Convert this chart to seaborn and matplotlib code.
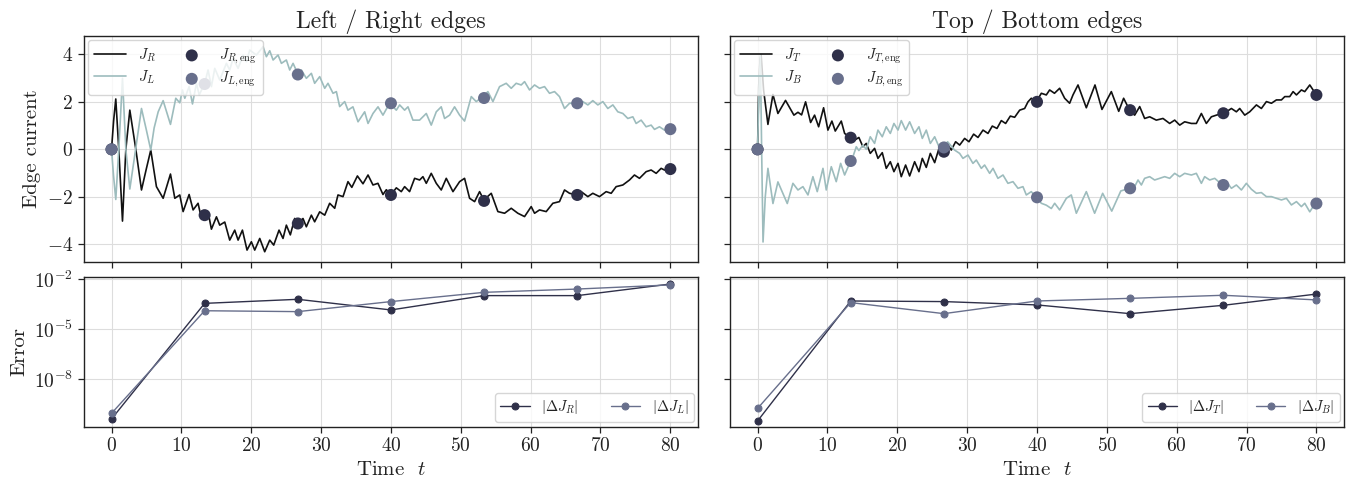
import numpy as np
import pandas as pd
import seaborn as sns
import matplotlib
matplotlib.use("Agg")
import matplotlib.pyplot as plt

# ---------------- data ----------------
t_R = [0, 0.3, 0.61, 1.04, 1.57, 2.05, 2.62, 3.48, 4.29, 5.0, 5.62, 6.43, 7.39, 8.44, 9.06, 9.77,
       10.25, 11.11, 11.68, 12.39, 12.87, 13.35, 13.82, 14.30, 15.02, 15.49, 16.21, 16.92, 17.64,
       18.12, 18.74, 19.40, 20.02, 20.5, 21.22, 21.93, 22.65, 23.22, 23.98, 24.55, 25.03, 25.6,
       26.22, 26.7, 27.41, 27.89, 28.61, 29.08, 29.8, 30.52, 31.23, 31.95, 32.42, 33.14, 33.85,
       34.4, 35.2, 36.0, 36.72, 37.43, 38.14, 38.86, 39.34, 40.0, 40.77, 41.48, 41.96, 42.67,
       43.39, 44.11, 44.58, 45.06, 45.77, 46.49, 47.2, 47.92, 48.88, 49.83, 50.54, 51.26, 51.98,
       52.69, 53.3, 54.36, 55.31, 56.27, 57.22, 58.17, 59.13, 60.08, 60.56, 61.27, 62.23, 63.18,
       64.13, 64.85, 65.57, 66.7, 67.23, 68.19, 68.9, 69.86, 70.81, 71.53, 72.24, 73.2, 74.15,
       74.86, 75.58, 76.53, 77.25, 77.97, 78.68, 79.16, 80.0]
J_R = [0, 1.2, 2.12, 0.0, -3.02, 0.0, 1.65, 0.0, -1.71, -0.8, -0.03, -1.57, -2.06, -1.04, -2.06,
       -1.92, -2.62, -1.90, -2.55, -2.27, -2.91, -2.77, -2.63, -3.36, -2.84, -3.19, -3.06, -3.82,
       -3.4, -3.82, -3.4, -4.24, -3.89, -4.24, -3.75, -4.31, -3.82, -4.03, -3.4, -3.75, -3.19,
       -3.6, -2.91, -3.12, -2.91, -3.26, -2.77, -3.05, -2.63, -2.77, -2.27, -2.48, -1.92, -1.99,
       -1.36, -1.6, -1.12, -1.45, -1.08, -1.5, -1.43, -1.9, -1.7, -1.92, -1.62, -1.78, -1.57,
       -1.78, -1.22, -1.29, -1.15, -1.43, -1.01, -1.43, -1.71, -1.22, -1.78, -1.36, -1.22, -2.06,
       -2.2, -1.78, -2.13, -1.85, -2.62, -2.69, -2.48, -2.69, -2.83, -2.41, -2.69, -2.55, -2.62,
       -2.27, -2.20, -1.71, -1.85, -1.92, -1.78, -1.99, -1.85, -1.99, -1.78, -1.85, -1.57, -1.50,
       -1.29, -1.08, -1.22, -0.94, -0.87, -1.01, -0.80, -0.87, -0.83]

t_L = [0, 0.28, 0.61, 1.04, 1.57, 2.05, 2.62, 3.45, 4.29, 5.0, 5.62, 6.1, 6.68, 7.39, 8.44, 9.2,
       9.77, 10.15, 10.49, 11.11, 11.59, 12.16, 12.55, 13.35, 13.82, 14.30, 14.78, 15.49, 16.45,
       16.92, 17.4, 18.12, 18.83, 19.31, 19.79, 20.74, 21.7, 22.17, 22.65, 23.13, 23.84, 24.32,
       25.03, 25.51, 25.99, 26.7, 27.18, 27.89, 28.61, 29.08, 29.8, 30.52, 30.99, 31.71, 32.19,
       32.66, 33.38, 33.85, 34.56, 35.29, 36.24, 36.72, 37.43, 38.15, 38.86, 39.81, 40.77, 41.25,
       41.96, 42.44, 43.15, 44.1, 45.06, 45.77, 46.49, 47.2, 47.68, 48.4, 49.11, 49.83, 50.54,
       51.5, 52.21, 53.16, 53.88, 54.6, 55.55, 56.5, 57.22, 57.93, 58.65, 59.13, 59.84, 60.56,
       61.27, 61.99, 62.7, 63.42, 64.13, 64.85, 65.57, 66.7, 67.47, 68.19, 68.9, 69.62, 70.34,
       71.05, 71.77, 72.48, 73.2, 73.91, 74.63, 75.1, 75.82, 76.53, 77.25, 77.73, 78.44, 79.16, 80.0]
J_L = [0, -1.08, -2.11, 0.0, 2.99, 0.0, -1.67, 0.0, 1.72, 0.8, -0.03, 0.9, 1.58, 2.05, 1.05, 2.15,
       1.96, 2.5, 2.15, 2.64, 1.91, 2.78, 2.29, 2.78, 3.34, 2.64, 3.41, 2.92, 3.62, 3.34, 3.83,
       3.41, 3.97, 3.69, 4.18, 3.97, 4.32, 3.90, 4.15, 3.76, 3.97, 3.62, 3.76, 3.34, 3.62, 3.16,
       3.34, 2.99, 3.2, 2.78, 3.06, 2.57, 2.78, 2.36, 2.43, 1.80, 2.01, 1.65, 1.79, 1.16, 1.58,
       1.09, 1.51, 1.79, 1.44, 1.94, 1.65, 1.87, 1.65, 1.79, 1.23, 1.23, 1.51, 1.02, 1.58, 1.79,
       1.30, 1.44, 1.79, 1.44, 1.19, 2.22, 2.01, 2.22, 2.43, 2.01, 2.64, 2.78, 2.57, 2.78, 2.71,
       2.85, 2.5, 2.71, 2.57, 2.64, 2.36, 2.43, 2.22, 1.72, 1.94, 1.94, 2.01, 1.87, 2.05, 1.87,
       2.01, 1.72, 1.87, 1.58, 1.51, 1.30, 1.37, 1.09, 1.23, 0.95, 1.02, 0.84, 0.95, 0.81, 0.85]

t_T = [0, 0.15, 0.35, 0.5, 0.86, 1.48, 2.2, 2.91, 4.0, 5.2, 5.78, 6.3, 6.87, 7.59, 8.16, 8.74,
       9.45, 10.07, 10.64, 11.12, 11.98, 12.46, 13.27, 13.9, 14.5, 15.08, 15.56, 16.13, 16.75,
       17.23, 17.85, 18.42, 19.0, 19.52, 20.1, 20.57, 21.19, 21.77, 22.48, 23.1, 23.58, 24.15,
       24.73, 25.35, 25.97, 26.63, 27.26, 27.73, 28.35, 28.93, 29.64, 30.26, 30.93, 31.55, 32.27,
       32.98, 33.6, 34.27, 34.89, 35.51, 36.18, 36.8, 37.52, 38.23, 38.71, 39.18, 39.9, 40.62,
       41.33, 41.81, 42.5, 43.24, 43.96, 44.67, 45.15, 45.87, 47.06, 48.3, 49.3, 50.64, 51.7,
       52.4, 53.26, 53.98, 54.7, 55.41, 56.13, 57.08, 58.04, 58.99, 59.71, 60.43, 61.14, 62.1,
       62.81, 63.53, 64.24, 64.96, 65.68, 66.54, 67.11, 67.83, 68.54, 69.02, 69.74, 70.45, 71.41,
       72.12, 72.84, 73.56, 74.27, 74.99, 75.47, 76.18, 76.66, 77.14, 77.85, 78.33, 79.05, 79.52, 80.0]
J_T = [0, 2.6, 3.8, 4.0, 2.5, 1.05, 2.31, 1.51, 2.06, 1.44, 1.56, 1.45, 2.0, 1.13, 1.44, 0.95,
       1.75, 0.81, 1.19, 0.77, 1.19, 0.67, 0.49, 0.39, 0.5, 0.11, 0.25, -0.17, 0.04, -0.38, -0.14,
       -0.80, -0.52, -0.94, -0.59, -1.15, -0.66, -1.12, -0.52, -0.94, -0.38, -0.76, -0.17, -0.56,
       0.04, -0.1, 0.18, -0.03, 0.32, 0.18, 0.46, 0.32, 0.64, 0.5, 0.81, 0.67, 0.98, 0.88, 1.21,
       1.09, 1.40, 1.35, 1.65, 1.72, 2.0, 2.15, 2.0, 2.36, 2.29, 2.5, 2.36, 2.57, 2.15, 1.94,
       2.29, 2.71, 1.75, 2.71, 1.68, 2.43, 1.6, 2.15, 1.65, 1.44, 1.80, 1.30, 1.37, 1.23, 1.30,
       1.09, 1.23, 1.02, 1.16, 1.09, 1.09, 1.51, 1.09, 1.37, 1.44, 1.51, 1.58, 1.72, 1.58, 1.72,
       1.44, 1.58, 1.87, 1.72, 2.01, 1.94, 2.08, 2.08, 2.22, 2.22, 2.43, 2.29, 2.5, 2.43, 2.71,
       2.5, 2.29]

t_B = [0, 0.2, 0.4, 0.58, 0.78, 1.1, 1.48, 2.2, 2.91, 4.25, 5.06, 5.78, 6.49, 7.21, 7.92, 8.54,
       9.36, 9.83, 10.55, 11.26, 11.89, 12.46, 13.32, 13.65, 14.13, 14.5, 15.08, 15.56, 16.13,
       16.75, 17.23, 17.85, 18.42, 19.0, 19.52, 20.1, 20.57, 21.19, 21.77, 22.48, 23.1, 23.58,
       24.15, 24.73, 25.35, 25.97, 26.63, 27.2, 28.2, 28.92, 29.4, 30.12, 30.83, 31.31, 32.03,
       32.5, 33.22, 33.7, 34.41, 35.13, 35.84, 36.56, 37.28, 37.99, 38.47, 39.18, 39.9, 40.62,
       41.33, 42.05, 42.53, 43.24, 44.2, 44.91, 45.63, 47.06, 48.25, 49.4, 50.7, 52.0, 53.26,
       53.98, 54.46, 54.94, 55.41, 56.13, 56.84, 57.56, 58.28, 58.99, 59.71, 60.43, 61.14, 62.1,
       62.81, 63.53, 64.0, 64.72, 65.44, 66.54, 67.11, 67.83, 68.54, 69.26, 69.97, 70.69, 71.41,
       72.12, 72.84, 73.56, 74.27, 74.99, 75.7, 76.42, 77.14, 77.85, 78.33, 79.05, 79.52, 80.0]
J_B = [0, 2.5, 3.95, 0.0, -3.9, -2.0, -0.8, -2.28, -1.37, -2.28, -1.43, -1.71, -1.57, -1.92,
       -1.15, -1.78, -0.80, -1.71, -0.73, -1.36, -0.59, -1.08, -0.49, -0.31, 0.11, -0.05, 0.18,
       0.0, 0.53, 0.25, 0.81, 0.53, 0.95, 0.67, 1.09, 0.81, 1.21, 0.81, 1.16, 0.67, 0.95, 0.46,
       0.81, 0.25, 0.53, 0.11, 0.08, 0.32, -0.03, -0.17, -0.38, -0.24, -0.59, -0.45, -0.80,
       -0.66, -1.01, -0.80, -1.22, -1.08, -1.43, -1.36, -1.64, -1.57, -1.92, -1.78, -2.02, -2.27,
       -2.35, -2.49, -2.27, -2.55, -2.06, -1.92, -2.69, -1.78, -2.69, -1.85, -2.6, -1.75, -1.64,
       -1.57, -1.29, -1.50, -1.22, -1.15, -1.29, -1.22, -1.15, -1.22, -1.01, -1.15, -1.01, -1.08,
       -1.01, -1.43, -1.15, -1.29, -1.22, -1.5, -1.36, -1.64, -1.50, -1.71, -1.43, -1.68, -1.85,
       -1.82, -1.99, -1.99, -2.06, -2.13, -2.06, -2.34, -2.2, -2.41, -2.27, -2.63, -2.41, -2.28]

t_eng = [0, 13.33, 26.67, 40.0, 53.33, 66.67, 80.0]
J_R_eng = [0, -2.77, -3.12, -1.92, -2.17, -1.92, -0.83]
J_L_eng = [0, 2.75, 3.15, 1.94, 2.16, 1.94, 0.85]
J_T_eng = [0, 0.49, -0.10, 2.00, 1.65, 1.52, 2.29]
J_B_eng = [0, -0.49, 0.08, -2.02, -1.64, -1.50, -2.28]

err_R = [4.2e-11, 3.6e-4, 6.3e-4, 1.45e-4, 1.05e-3, 1.05e-3, 5.2e-3]
err_L = [9.1e-11, 1.3e-4, 1.15e-4, 4.6e-4, 1.65e-3, 2.6e-3, 4.6e-3]
err_T = [3.2e-11, 5.0e-4, 4.6e-4, 2.9e-4, 8.7e-5, 2.75e-4, 1.3e-3]
err_B = [1.8e-10, 4.0e-4, 8.7e-5, 5.0e-4, 7.2e-4, 1.1e-3, 5.8e-4]

xticks = [0, 10, 20, 30, 40, 50, 60, 70, 80]
yticks_top = [-4, -2, 0, 2, 4]
yticks_err = [1e-8, 1e-5, 1e-2]

# ---------------- style ----------------
sns.set_theme(style="whitegrid")
plt.rcParams.update({
    "font.family": "serif",
    "font.serif": ["cmr10", "DejaVu Serif"],
    "mathtext.fontset": "cm",
    "axes.formatter.use_mathtext": True,
    "axes.edgecolor": "#222222",
    "axes.linewidth": 1.0,
    "grid.color": "#dddddd",
    "grid.linewidth": 0.8,
    "xtick.bottom": True,
    "ytick.left": True,
    "xtick.major.size": 4,
    "ytick.major.size": 4,
    "xtick.major.width": 0.9,
    "ytick.major.width": 0.9,
    "xtick.color": "#222222",
    "ytick.color": "#222222",
    "xtick.labelcolor": "#222222",
    "ytick.labelcolor": "#222222",
    "axes.labelcolor": "#222222",
    "text.color": "#222222",
    "xtick.labelsize": 14,
    "ytick.labelsize": 14,
})

C_DARK_LINE = "#111111"
C_LIGHT_LINE = "#9dbcbd"
C_DARK = "#2f3049"
C_LIGHT = "#686f8c"

fig = plt.figure(figsize=(13.48, 4.79), dpi=100)
gs = fig.add_gridspec(2, 2, left=0.062, right=0.9973, top=0.9248, bottom=0.1092,
                      wspace=0.051, hspace=0.083, height_ratios=[225.7, 149.4])
ax_tl = fig.add_subplot(gs[0, 0])
ax_tr = fig.add_subplot(gs[0, 1], sharey=ax_tl)
ax_bl = fig.add_subplot(gs[1, 0], sharex=ax_tl)
ax_br = fig.add_subplot(gs[1, 1], sharex=ax_tr, sharey=ax_bl)

def top_panel(ax, t1, y1, l1, t2, y2, l2, e1, le1, e2, le2, title):
    sns.lineplot(x=t1, y=y1, ax=ax, color=C_DARK_LINE, lw=1.2, label=l1, sort=False, estimator=None)
    sns.lineplot(x=t2, y=y2, ax=ax, color=C_LIGHT_LINE, lw=1.2, label=l2, sort=False, estimator=None)
    sns.scatterplot(x=t_eng, y=e1, ax=ax, color=C_DARK, s=75, edgecolor="none", label=le1, zorder=3)
    sns.scatterplot(x=t_eng, y=e2, ax=ax, color=C_LIGHT, s=75, edgecolor="none", label=le2, zorder=3)
    ax.legend(loc="upper left", ncol=2, fontsize=10.5, frameon=True, borderaxespad=0.3,
              columnspacing=1.4, handlelength=2.2, labelspacing=0.3)
    ax.set_title(title, fontsize=17, pad=6)
    ax.set_ylim(-4.73, 4.77)
    ax.set_yticks(yticks_top)
    ax.set_xlim(-4, 84)
    ax.set_xticks(xticks)
    ax.tick_params(labelbottom=False)

def err_panel(ax, e1, l1, e2, l2):
    sns.lineplot(x=t_eng, y=e1, ax=ax, color=C_DARK, lw=1.0, marker="o", markersize=5,
                 markeredgecolor=C_DARK, label=l1, sort=False, estimator=None)
    sns.lineplot(x=t_eng, y=e2, ax=ax, color=C_LIGHT, lw=1.0, marker="o", markersize=5,
                 markeredgecolor=C_LIGHT, label=l2, sort=False, estimator=None)
    ax.set_yscale("log")
    ax.set_ylim(10 ** -10.84, 10 ** -1.88)
    ax.set_yticks(yticks_err)
    ax.minorticks_off()
    ax.set_xlim(-4, 84)
    ax.set_xticks(xticks)
    ax.set_xlabel("Time  $t$", fontsize=15)
    ax.legend(loc="lower right", ncol=2, fontsize=10.5, frameon=True, borderaxespad=0.3,
              columnspacing=2.2, handlelength=2.0)

top_panel(ax_tl, t_R, J_R, r"$J_R$", t_L, J_L, r"$J_L$",
          J_R_eng, r"$J_{R,\mathrm{eng}}$", J_L_eng, r"$J_{L,\mathrm{eng}}$", "Left / Right edges")
top_panel(ax_tr, t_T, J_T, r"$J_T$", t_B, J_B, r"$J_B$",
          J_T_eng, r"$J_{T,\mathrm{eng}}$", J_B_eng, r"$J_{B,\mathrm{eng}}$", "Top / Bottom edges")
err_panel(ax_bl, err_R, r"$|\Delta J_R|$", err_L, r"$|\Delta J_L|$")
err_panel(ax_br, err_T, r"$|\Delta J_T|$", err_B, r"$|\Delta J_B|$")

ax_tl.set_ylabel("Edge current", fontsize=15)
ax_bl.set_ylabel("Error", fontsize=15)
ax_tr.set_ylabel("")
ax_br.set_ylabel("")
ax_tr.tick_params(labelleft=False)
ax_br.tick_params(labelleft=False)

for ax in (ax_tl, ax_tr, ax_bl, ax_br):
    for sp in ax.spines.values():
        sp.set_visible(True)
        sp.set_color("#222222")
        sp.set_linewidth(1.0)

fig.savefig("out.png", dpi=100)
